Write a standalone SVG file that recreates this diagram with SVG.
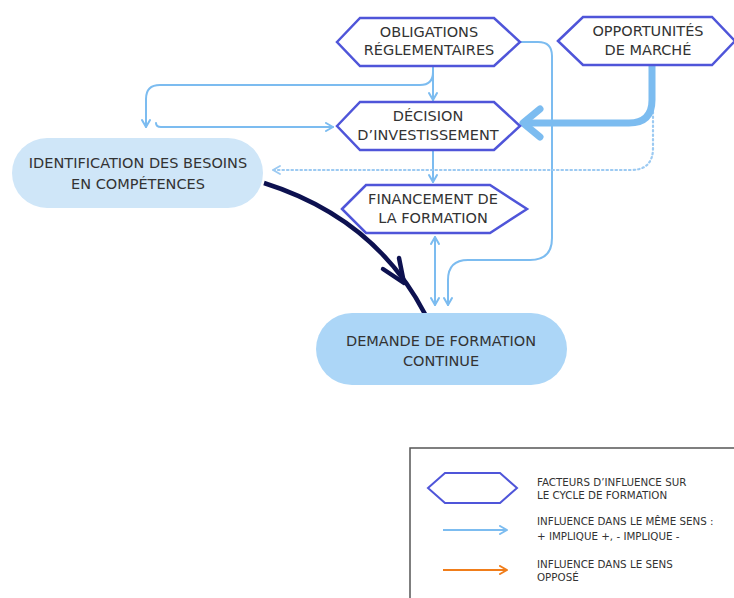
<svg xmlns="http://www.w3.org/2000/svg" width="734" height="598" viewBox="0 0 734 598">
<defs>
<style>
.hex{fill:#fff;stroke:#4f55d9;stroke-width:2.5;stroke-linejoin:miter}
.t{font-family:"DejaVu Sans","Liberation Sans",sans-serif;font-size:14.5px;fill:#333;text-anchor:middle}
.lt{font-family:"DejaVu Sans","Liberation Sans",sans-serif;font-size:10.3px;fill:#333}
.c{fill:none;stroke:#7cbcf0;stroke-width:2;stroke-linecap:round;stroke-linejoin:round}
</style>
<marker id="ah" viewBox="0 0 10 10" refX="9" refY="5" markerWidth="10" markerHeight="10" markerUnits="userSpaceOnUse" orient="auto-start-reverse">
<path d="M2 1 L9 5 L2 9" fill="none" stroke="#7cbcf0" stroke-width="2" stroke-linecap="round" stroke-linejoin="round"/>
</marker>
<marker id="ahd" viewBox="0 0 10 10" refX="9" refY="5" markerWidth="10" markerHeight="10" markerUnits="userSpaceOnUse" orient="auto">
<path d="M2 1 L9 5 L2 9" fill="none" stroke="#9ccaf2" stroke-width="1.8" stroke-linecap="round" stroke-linejoin="round"/>
</marker>
<marker id="aho" viewBox="0 0 10 10" refX="9" refY="5" markerWidth="10" markerHeight="10" markerUnits="userSpaceOnUse" orient="auto">
<path d="M2 1 L9 5 L2 9" fill="none" stroke="#f07d1a" stroke-width="2" stroke-linecap="round" stroke-linejoin="round"/>
</marker>
</defs>
<rect width="734" height="598" fill="#fff"/>

<g id="connectors">
<path class="c" d="M433 66 V100" marker-end="url(#ah)"/>
<path class="c" d="M433 72 Q433 85 420 85 H160 Q146 85 146 99 V127" marker-end="url(#ah)"/>
<path class="c" d="M156 123 Q156 127 161 127 H333" marker-end="url(#ah)"/>
<path class="c" d="M433 150 V182" marker-end="url(#ah)"/>
<path class="c" d="M520 42 H538 Q552 42 552 56 V238 Q552 260 530 260 H468 Q448 260 448 280 V305" marker-end="url(#ah)"/>
<path class="c" d="M435 237 V305" marker-start="url(#ah)" marker-end="url(#ah)"/>
<path d="M653 112 V148 Q653 170 631 170 H273" fill="none" stroke="#9ccaf2" stroke-width="2.2" stroke-dasharray="1.5 3" stroke-linecap="round" marker-end="url(#ahd)"/>
<path d="M652 65 V100 Q652 123 629 123 H526" fill="none" stroke="#7cbcf0" stroke-width="7" stroke-linecap="round"/>
<path d="M540 109 L523 123 L540 137" fill="none" stroke="#7cbcf0" stroke-width="7" stroke-linecap="round" stroke-linejoin="round"/>
<path d="M264 183 Q375 218 425 314" fill="none" stroke="#0d1150" stroke-width="4.5"/>
<path d="M383 269 L404 283 L399 258" fill="none" stroke="#0d1150" stroke-width="4.5" stroke-linecap="round" stroke-linejoin="round"/>
</g>

<g id="obligations">
<polygon class="hex" points="337,42 360,18 494,18 520,42 494,66 360,66"/>
<text class="t" x="429" y="37">OBLIGATIONS</text>
<text class="t" x="429" y="55">RÉGLEMENTAIRES</text>
</g>
<g id="opportunites">
<polygon class="hex" points="558,41 583,17 712,17 735,41 712,65 583,65"/>
<text class="t" x="648" y="36">OPPORTUNITÉS</text>
<text class="t" x="648" y="55">DE MARCHÉ</text>
</g>
<g id="decision">
<polygon class="hex" points="337,126 360,102 494,102 520,126 494,150 360,150"/>
<text class="t" x="428" y="121">DÉCISION</text>
<text class="t" x="428" y="140">D’INVESTISSEMENT</text>
</g>
<g id="financement">
<polygon class="hex" points="342,209 366,185 490,185 527,209 490,233 366,233"/>
<text class="t" x="433" y="204">FINANCEMENT DE</text>
<text class="t" x="433" y="223">LA FORMATION</text>
</g>
<g id="identification">
<rect x="12" y="138" width="251" height="70" rx="35" fill="#cfe6f8"/>
<text class="t" x="138" y="168">IDENTIFICATION DES BESOINS</text>
<text class="t" x="138" y="189">EN COMPÉTENCES</text>
</g>
<g id="demande">
<rect x="316" y="313" width="251" height="72" rx="36" fill="#acd6f7"/>
<text class="t" x="441" y="346">DEMANDE DE FORMATION</text>
<text class="t" x="441" y="366">CONTINUE</text>
</g>

<g id="legend">
<rect x="410" y="448" width="340" height="170" fill="#fff" stroke="#555" stroke-width="1.5"/>
<polygon points="428,488 445,473 500,473 517,488 500,503 445,503" fill="#fff" stroke="#4f55d9" stroke-width="2"/>
<text class="lt" x="537" y="486">FACTEURS D’INFLUENCE SUR</text>
<text class="lt" x="537" y="499">LE CYCLE DE FORMATION</text>
<line x1="443" y1="530" x2="507" y2="530" stroke="#7cbcf0" stroke-width="2" marker-end="url(#ah)"/>
<text class="lt" x="537" y="525">INFLUENCE DANS LE MÊME SENS :</text>
<text class="lt" x="537" y="540">+ IMPLIQUE +, - IMPLIQUE -</text>
<line x1="443" y1="570" x2="507" y2="570" stroke="#f07d1a" stroke-width="2" marker-end="url(#aho)"/>
<text class="lt" x="537" y="568">INFLUENCE DANS LE SENS</text>
<text class="lt" x="537" y="581">OPPOSÉ</text>
</g>
</svg>
